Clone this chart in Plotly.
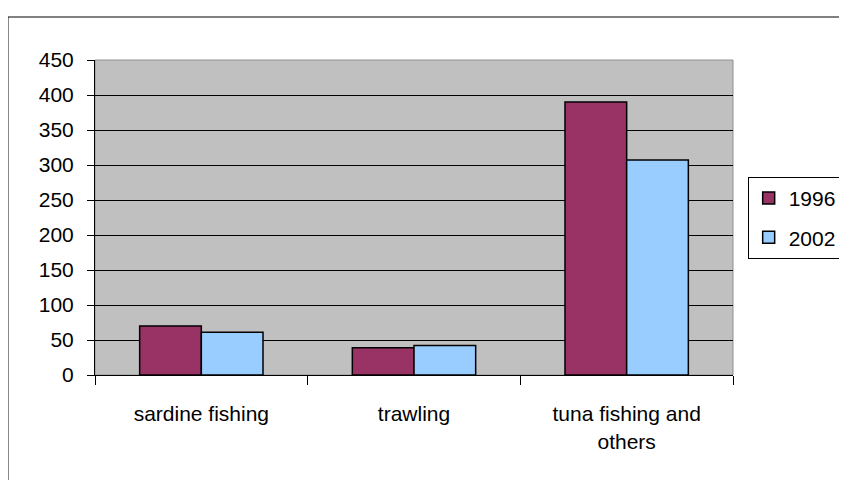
import plotly.graph_objects as go

categories = ["sardine fishing", "trawling", "tuna fishing and<br>others"]
years = ["1996", "2002"]
values_1996 = [70, 39, 390]
values_2002 = [61, 42, 307]
colors = ["#993366", "#99CCFF"]

font = dict(family="Liberation Sans, Arial, sans-serif", size=21, color="black")

fig = go.Figure()
for name, vals, col in zip(years, [values_1996, values_2002], colors):
    fig.add_trace(go.Bar(x=categories, y=vals, name=name, legendgroup=name,
                         marker=dict(color=col, line=dict(color="black", width=1.5))))

# the page body has an 8px margin, so the figure sits 8px right/down
fig.update_layout(
    width=847, height=480,
    margin=dict(l=87, r=122, t=52, b=113, autoexpand=False),
    paper_bgcolor="white", plot_bgcolor="#C0C0C0",
    font=font,
    barmode="group", bargap=0.42, bargroupgap=0,
    showlegend=True,
    legend=dict(x=1.023, y=0.629, xanchor="left", yanchor="top",
                bordercolor="black", borderwidth=1, bgcolor="white",
                font=font, tracegroupgap=9, itemwidth=30),
    xaxis=dict(showline=True, linecolor="black", linewidth=1,
               ticks="outside", tickson="boundaries", ticklen=9, tickcolor="black",
               ticklabelstandoff=20, showgrid=False),
    yaxis=dict(range=[0, 450], dtick=50, showline=True, linecolor="black", linewidth=1,
               ticks="outside", ticklen=7, tickcolor="black", ticklabelstandoff=9,
               showgrid=True, gridcolor="black", gridwidth=1, zeroline=False),
)

# plot-area frame and the outer chart border
fig.add_shape(type="rect", xref="paper", yref="paper", x0=0, y0=0, x1=1, y1=1,
              line=dict(color="#909090", width=1), layer="below")
fig.add_shape(type="rect", xref="paper", yref="paper", x0=-0.1364, y0=-0.4, x1=1.2, y1=1.1365,
              line=dict(color="black", width=1))

fig.write_html("out.html")
